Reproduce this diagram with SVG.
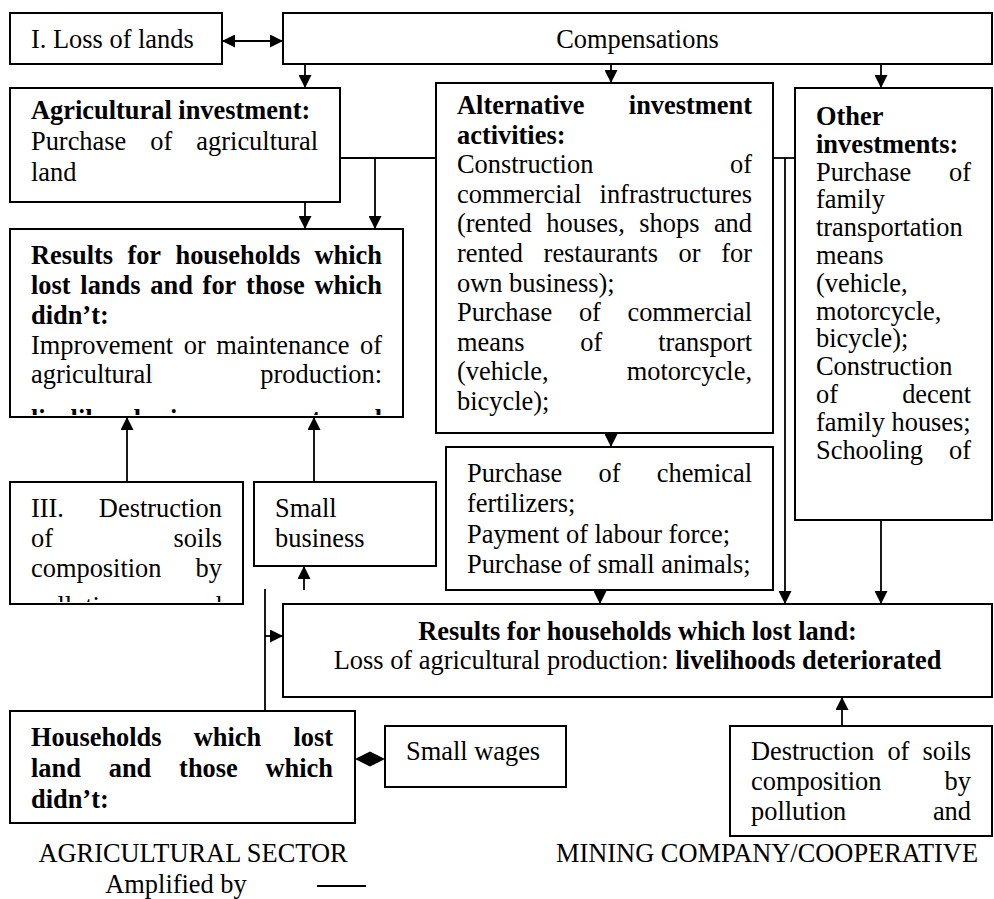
<svg xmlns="http://www.w3.org/2000/svg" width="994" height="899" viewBox="0 0 994 899">
<style>
.box{fill:#fff;stroke:#000;stroke-width:2}
.t{font-family:"Liberation Serif","Times New Roman",serif;font-size:26.4px;fill:#000}
.b{font-weight:bold}
.e{text-anchor:end}
.m{text-anchor:middle}
.c{stroke:#000;stroke-width:1.8;fill:none}
</style>
<defs>
<marker id="ah" markerUnits="userSpaceOnUse" viewBox="0 0 14 13" markerWidth="14" markerHeight="13" refX="13" refY="6.5" orient="auto-start-reverse">
<path d="M0,0 L13,6.5 L0,13 z" fill="#000"/>
</marker>
<clipPath id="clipRes"><rect x="10" y="229" width="393" height="186"/></clipPath>
<clipPath id="clipIII"><rect x="10" y="482" width="233" height="120"/></clipPath>
</defs>
<rect width="994" height="899" fill="#fff"/>

<g id="connectors">
<path class="c" d="M222,41 L283,41" marker-start="url(#ah)" marker-end="url(#ah)"/>
<path class="c" d="M305,64 L305,88" marker-end="url(#ah)"/>
<path class="c" d="M611,64 L611,83" marker-end="url(#ah)"/>
<path class="c" d="M881,64 L881,88" marker-end="url(#ah)"/>
<path class="c" d="M340,158 L436,158"/>
<path class="c" d="M773,158 L795,158"/>
<path class="c" d="M305,202 L305,229" marker-end="url(#ah)"/>
<path class="c" d="M375,158 L375,229" marker-end="url(#ah)"/>
<path class="c" d="M785,158 L785,604" marker-end="url(#ah)"/>
<path class="c" d="M611,433 L611,447" marker-end="url(#ah)"/>
<path class="c" d="M600,590 L600,604" marker-end="url(#ah)"/>
<path class="c" d="M881,520 L881,604" marker-end="url(#ah)"/>
<path class="c" d="M127,482 L127,417" marker-end="url(#ah)"/>
<path class="c" d="M314,482 L314,417" marker-end="url(#ah)"/>
<path class="c" d="M304,590 L304,566" marker-end="url(#ah)"/>
<path class="c" d="M265,589 L265,711"/>
<path class="c" d="M265,636 L283,636" marker-end="url(#ah)"/>
<polygon points="355,759 370,751.5 385,759 370,766.5" fill="#000"/>
<path class="c" d="M842,726 L842,697" marker-end="url(#ah)"/>
<path class="c" d="M317,886 L366,886"/>
</g>

<g id="loss">
<rect class="box" x="10" y="13" width="212" height="51"/>
<text class="t" x="31" y="48">I. Loss of lands</text>
</g>

<g id="compensations">
<rect class="box" x="283" y="13" width="709" height="51"/>
<text class="t m" x="637.5" y="48">Compensations</text>
</g>

<g id="agri-investment">
<rect class="box" x="10" y="88" width="330" height="114"/>
<text class="t b" x="31" y="119">Agricultural investment:</text>
<text class="t" x="31" y="150">Purchase</text>
<text class="t" x="150.3" y="150">of</text>
<text class="t e" x="318" y="150">agricultural</text>
<text class="t" x="31" y="181">land</text>
</g>

<g id="alt-investment">
<rect class="box" x="436" y="83" width="337" height="350"/>
<text class="t b" x="457" y="114">Alternative</text>
<text class="t b e" x="752" y="114">investment</text>
<text class="t b" x="457" y="143.6">activities:</text>
<text class="t" x="457" y="173.2">Construction</text>
<text class="t e" x="752" y="173.2">of</text>
<text class="t" x="457" y="202.8">commercial</text>
<text class="t e" x="752" y="202.8">infrastructures</text>
<text class="t" x="457" y="232.4">(rented</text>
<text class="t" x="546.3" y="232.4">houses,</text>
<text class="t" x="639.3" y="232.4">shops</text>
<text class="t e" x="752" y="232.4">and</text>
<text class="t" x="457" y="262">rented</text>
<text class="t" x="543.6" y="262">restaurants</text>
<text class="t" x="678.6" y="262">or</text>
<text class="t e" x="752" y="262">for</text>
<text class="t" x="457" y="291.6">own business);</text>
<text class="t" x="457" y="321.2">Purchase</text>
<text class="t" x="578.9" y="321.2">of</text>
<text class="t e" x="752" y="321.2">commercial</text>
<text class="t" x="457" y="350.8">means</text>
<text class="t" x="580.3" y="350.8">of</text>
<text class="t e" x="752" y="350.8">transport</text>
<text class="t" x="457" y="380.4">(vehicle,</text>
<text class="t e" x="752" y="380.4">motorcycle,</text>
<text class="t" x="457" y="410">bicycle);</text>
</g>

<g id="other-investments">
<rect class="box" x="795" y="88" width="197" height="432"/>
<text class="t b" x="816" y="125">Other</text>
<text class="t b" x="816" y="152.8">investments:</text>
<text class="t" x="816" y="180.6">Purchase</text>
<text class="t e" x="971" y="180.6">of</text>
<text class="t" x="816" y="208.4">family</text>
<text class="t" x="816" y="236.2">transportation</text>
<text class="t" x="816" y="264">means</text>
<text class="t" x="816" y="291.8">(vehicle,</text>
<text class="t" x="816" y="319.6">motorcycle,</text>
<text class="t" x="816" y="347.4">bicycle);</text>
<text class="t" x="816" y="375.2">Construction</text>
<text class="t" x="816" y="403">of</text>
<text class="t e" x="971" y="403">decent</text>
<text class="t" x="816" y="430.8">family houses;</text>
<text class="t" x="816" y="458.6">Schooling</text>
<text class="t e" x="971" y="458.6">of</text>
</g>

<g id="results-both">
<rect class="box" x="10" y="229" width="393" height="188"/>
<text class="t b" x="31" y="264">Results</text>
<text class="t b" x="127.4" y="264">for</text>
<text class="t b" x="175.5" y="264">households</text>
<text class="t b e" x="382" y="264">which</text>
<text class="t b" x="31" y="294">lost</text>
<text class="t b" x="80.3" y="294">lands</text>
<text class="t b" x="150.3" y="294">and</text>
<text class="t b" x="202.6" y="294">for</text>
<text class="t b" x="246.1" y="294">those</text>
<text class="t b e" x="382" y="294">which</text>
<text class="t b" x="31" y="323.5">didn’t:</text>
<text class="t" x="31" y="353.5">Improvement</text>
<text class="t" x="183.7" y="353.5">or</text>
<text class="t" x="216.2" y="353.5">maintenance</text>
<text class="t e" x="382" y="353.5">of</text>
<text class="t" x="31" y="383">agricultural</text>
<text class="t e" x="382" y="383">production:</text>
<g clip-path="url(#clipRes)">
<text class="t b" x="31" y="428">livelihoods</text>
<text class="t b" x="170" y="428">improvement</text>
<text class="t b e" x="382" y="428">and</text>
</g>
</g>

<g id="destruction-agri">
<rect class="box" x="10" y="482" width="233" height="122"/>
<text class="t" x="31" y="517">III.</text>
<text class="t e" x="222" y="517">Destruction</text>
<text class="t" x="31" y="547">of</text>
<text class="t e" x="222" y="547">soils</text>
<text class="t" x="31" y="577">composition</text>
<text class="t e" x="222" y="577">by</text>
<g clip-path="url(#clipIII)">
<text class="t" x="31" y="615">pollution</text>
<text class="t e" x="222" y="615">and</text>
</g>
</g>

<g id="small-business">
<rect class="box" x="254" y="482" width="182" height="84"/>
<text class="t" x="275" y="517">Small</text>
<text class="t" x="275" y="547">business</text>
</g>

<g id="purchase-inputs">
<rect class="box" x="446" y="447" width="327" height="143"/>
<text class="t" x="467" y="482">Purchase</text>
<text class="t" x="598.5" y="482">of</text>
<text class="t e" x="752" y="482">chemical</text>
<text class="t" x="467" y="512">fertilizers;</text>
<text class="t" x="467" y="542.5">Payment of labour force;</text>
<text class="t" x="467" y="573">Purchase of small animals;</text>
</g>

<g id="results-lost">
<rect class="box" x="283" y="604" width="709" height="93"/>
<text class="t b m" x="637.5" y="640">Results for households which lost land:</text>
<text class="t m" x="637.5" y="669">Loss of agricultural production: <tspan class="b">livelihoods deteriorated</tspan></text>
</g>

<g id="households">
<rect class="box" x="10" y="711" width="345" height="112"/>
<text class="t b" x="31" y="746">Households</text>
<text class="t b" x="193.7" y="746">which</text>
<text class="t b e" x="333" y="746">lost</text>
<text class="t b" x="31" y="777">land</text>
<text class="t b" x="108.7" y="777">and</text>
<text class="t b" x="179.1" y="777">those</text>
<text class="t b e" x="333" y="777">which</text>
<text class="t b" x="31" y="808">didn’t:</text>
</g>

<g id="small-wages">
<rect class="box" x="385" y="726" width="181" height="61"/>
<text class="t" x="406" y="760">Small wages</text>
</g>

<g id="destruction-mining">
<rect class="box" x="730" y="726" width="262" height="110"/>
<text class="t" x="751" y="760">Destruction</text>
<text class="t" x="887.4" y="760">of</text>
<text class="t e" x="971" y="760">soils</text>
<text class="t" x="751" y="790">composition</text>
<text class="t e" x="971" y="790">by</text>
<text class="t" x="751" y="820">pollution</text>
<text class="t e" x="971" y="820">and</text>
</g>

<g id="labels">
<text class="t m" x="193" y="862">AGRICULTURAL SECTOR</text>
<text class="t m" x="176" y="893">Amplified by</text>
<text class="t m" x="767" y="862">MINING COMPANY/COOPERATIVE</text>
</g>
</svg>
